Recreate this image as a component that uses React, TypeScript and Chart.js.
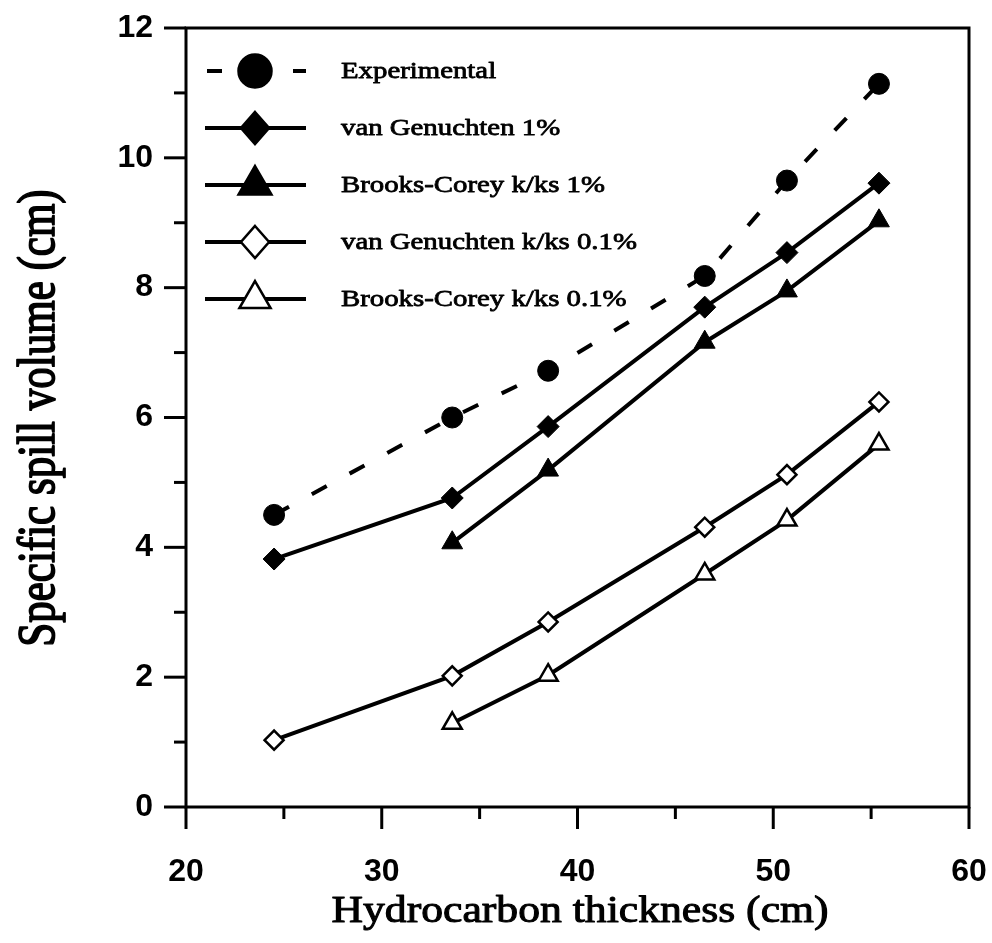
import React, { useEffect, useRef } from 'react';
import { Chart, registerables } from 'chart.js';

Chart.register(...registerables);

// Hydrocarbon thickness (cm) at which each spill volume was evaluated
const thickness = [24.5, 33.6, 38.5, 46.5, 50.7, 55.4];

// Specific spill volume (cm)
const experimental = [4.5, 6.0, 6.72, 8.18, 9.65, 11.14];
const vanGenuchten1 = [3.82, 4.76, 5.86, 7.7, 8.54, 9.61];
const brooksCorey1 = [null, 4.07, 5.19, 7.16, 7.95, 9.03];
const vanGenuchten01 = [1.03, 2.02, 2.85, 4.31, 5.12, 6.24];
const brooksCorey01 = [null, 1.29, 2.03, 3.59, 4.42, 5.59];

const seriesNames = [
  'Experimental',
  'van Genuchten 1%',
  'Brooks-Corey k/ks 1%',
  'van Genuchten k/ks 0.1%',
  'Brooks-Corey k/ks 0.1%',
];

const xRange = [20, 60];
const yRange = [0, 12];
const xTitle = 'Hydrocarbon thickness (cm)';
const yTitle = 'Specific spill volume (cm)';

const SERIF = '"Liberation Serif", "Times New Roman", serif';
const SANS = '"Liberation Sans", Arial, sans-serif';

type Marker = 'circle' | 'diamond' | 'triangle';

const toPoints = (vals: (number | null)[]) =>
  vals.map((v, i) => ({ x: thickness[i], y: v }));

function drawMarker(
  ctx: CanvasRenderingContext2D,
  kind: Marker,
  x: number,
  y: number,
  r: number,
  filled: boolean
) {
  ctx.save();
  ctx.beginPath();
  if (kind === 'circle') {
    ctx.arc(x, y, r, 0, Math.PI * 2);
  } else if (kind === 'diamond') {
    ctx.moveTo(x, y - r);
    ctx.lineTo(x + r * 0.88, y);
    ctx.lineTo(x, y + r);
    ctx.lineTo(x - r * 0.88, y);
  } else {
    const hw = r * Math.sin(Math.PI / 3);
    ctx.moveTo(x, y - r);
    ctx.lineTo(x + hw, y + r / 2);
    ctx.lineTo(x - hw, y + r / 2);
  }
  ctx.closePath();
  ctx.fillStyle = filled ? '#000' : '#fff';
  ctx.fill();
  ctx.lineWidth = 2.5;
  ctx.strokeStyle = '#000';
  ctx.stroke();
  ctx.restore();
}

// Text with a horizontal stretch and a light outline so the serif reads heavier
function stretchedText(
  ctx: CanvasRenderingContext2D,
  text: string,
  x: number,
  y: number,
  font: string,
  sx: number,
  align: CanvasTextAlign,
  baseline: CanvasTextBaseline,
  outline: number
) {
  ctx.save();
  ctx.translate(x, y);
  ctx.scale(sx, 1);
  ctx.font = font;
  ctx.fillStyle = '#000';
  ctx.strokeStyle = '#000';
  ctx.lineWidth = outline;
  ctx.lineJoin = 'round';
  ctx.textAlign = align;
  ctx.textBaseline = baseline;
  ctx.fillText(text, 0, 0);
  if (outline > 0) ctx.strokeText(text, 0, 0);
  ctx.restore();
}

const legendMarkers: { kind: Marker; r: number; filled: boolean }[] = [
  { kind: 'circle', r: 16.5, filled: true },
  { kind: 'diamond', r: 16, filled: true },
  { kind: 'triangle', r: 19, filled: true },
  { kind: 'diamond', r: 16, filled: false },
  { kind: 'triangle', r: 18, filled: false },
];

const framePlugin = {
  id: 'frameTicksLegend',
  afterDatasetsDraw(chart: any) {
    const ctx: CanvasRenderingContext2D = chart.ctx;
    const { left, right, top, bottom } = chart.chartArea;
    const xs = chart.scales.x;
    const ys = chart.scales.y;
    ctx.save();
    ctx.strokeStyle = '#000';
    ctx.lineWidth = 3;
    ctx.lineCap = 'butt';
    ctx.strokeRect(left, top, right - left, bottom - top);

    // y ticks: majors every 2, minors in between
    for (let v = yRange[0]; v <= yRange[1]; v += 1) {
      const py = ys.getPixelForValue(v);
      const len = v % 2 === 0 ? 22 : 12;
      ctx.beginPath();
      ctx.moveTo(left - len, py);
      ctx.lineTo(left, py);
      ctx.stroke();
    }
    // x ticks: majors every 10, minors every 5
    for (let v = xRange[0]; v <= xRange[1]; v += 5) {
      const px = xs.getPixelForValue(v);
      const len = v % 10 === 0 ? 22 : 12;
      ctx.beginPath();
      ctx.moveTo(px, bottom);
      ctx.lineTo(px, bottom + len);
      ctx.stroke();
    }
    ctx.restore();
  },
  afterDraw(chart: any) {
    const ctx: CanvasRenderingContext2D = chart.ctx;

    // legend inside the plot
    chart.data.datasets.forEach((ds: any, i: number) => {
      const y = 71 + i * 57;
      ctx.save();
      ctx.strokeStyle = '#000';
      ctx.lineWidth = 4;
      ctx.beginPath();
      if (ds.borderDash && ds.borderDash.length) {
        ctx.setLineDash([15, 71]);
        ctx.moveTo(207, y);
        ctx.lineTo(306, y);
      } else {
        ctx.moveTo(205, y);
        ctx.lineTo(306, y);
      }
      ctx.stroke();
      ctx.restore();
      const m = legendMarkers[i];
      drawMarker(ctx, m.kind, 255, y, m.r, m.filled);
      stretchedText(ctx, ds.label, 341, y + 1, `24px ${SERIF}`, 1.2, 'left', 'middle', 0.8);
    });

    // axis titles
    stretchedText(ctx, xTitle, 580, 922, `37px ${SERIF}`, 1.18, 'center', 'alphabetic', 1);
    ctx.save();
    ctx.translate(40, 418);
    ctx.scale(1.25, 1);
    ctx.rotate(-Math.PI / 2);
    ctx.font = `43px ${SERIF}`;
    ctx.fillStyle = '#000';
    ctx.strokeStyle = '#000';
    ctx.lineWidth = 1.4;
    ctx.lineJoin = 'round';
    ctx.textAlign = 'center';
    ctx.textBaseline = 'middle';
    ctx.fillText(yTitle, 0, 0);
    ctx.strokeText(yTitle, 0, 0);
    ctx.restore();
  },
};

const zeroPadding = (scale: any) => {
  scale.paddingTop = 0;
  scale.paddingBottom = 0;
  scale.paddingLeft = 0;
  scale.paddingRight = 0;
};

export default function App() {
  const canvasRef = useRef<HTMLCanvasElement | null>(null);

  useEffect(() => {
    if (!canvasRef.current) return;
    const lineBase = {
      borderColor: '#000',
      borderWidth: 4,
      pointBorderColor: '#000',
      fill: false,
      tension: 0,
    };
    const chart = new Chart(canvasRef.current, {
      type: 'line',
      data: {
        datasets: [
          {
            ...lineBase,
            label: seriesNames[0],
            data: toPoints(experimental),
            borderDash: [17, 26],
            pointStyle: 'circle',
            pointRadius: 10.5,
            pointBackgroundColor: '#000',
            pointBorderWidth: 1,
          },
          {
            ...lineBase,
            label: seriesNames[1],
            data: toPoints(vanGenuchten1),
            pointStyle: 'rectRot',
            pointRadius: 11,
            pointBackgroundColor: '#000',
            pointBorderWidth: 1,
          },
          {
            ...lineBase,
            label: seriesNames[2],
            data: toPoints(brooksCorey1),
            pointStyle: 'triangle',
            pointRadius: 12,
            pointBackgroundColor: '#000',
            pointBorderWidth: 1,
          },
          {
            ...lineBase,
            label: seriesNames[3],
            data: toPoints(vanGenuchten01),
            pointStyle: 'rectRot',
            pointRadius: 9.5,
            pointBackgroundColor: '#fff',
            pointBorderWidth: 2.5,
          },
          {
            ...lineBase,
            label: seriesNames[4],
            data: toPoints(brooksCorey01),
            pointStyle: 'triangle',
            pointRadius: 11,
            pointBackgroundColor: '#fff',
            pointBorderWidth: 2.5,
          },
        ],
      },
      options: {
        responsive: false,
        animation: false,
        events: [],
        layout: { autoPadding: false, padding: { left: 0, right: 23, top: 28, bottom: 0 } },
        plugins: {
          legend: { display: false },
          tooltip: { enabled: false },
        },
        scales: {
          x: {
            type: 'linear',
            min: xRange[0],
            max: xRange[1],
            grid: { display: false, drawTicks: false },
            border: { display: false },
            ticks: {
              stepSize: 10,
              padding: 46,
              color: '#000',
              font: { family: SANS, size: 32, weight: 'bold' },
              maxRotation: 0,
            },
            afterFit: (scale: any) => {
              scale.height = 136;
              zeroPadding(scale);
            },
          },
          y: {
            type: 'linear',
            min: yRange[0],
            max: yRange[1],
            grid: { display: false, drawTicks: false },
            border: { display: false },
            ticks: {
              stepSize: 2,
              padding: 33,
              color: '#000',
              font: { family: SANS, size: 32, weight: 'bold' },
            },
            afterFit: (scale: any) => {
              scale.width = 186;
              zeroPadding(scale);
            },
          },
        },
      },
      plugins: [framePlugin],
    } as any);
    return () => chart.destroy();
  }, []);

  return (
    <div style={{ position: 'absolute', left: 0, top: 0, width: 992, height: 943, background: '#fff' }}>
      <canvas ref={canvasRef} width={992} height={943} style={{ display: 'block' }} />
    </div>
  );
}
